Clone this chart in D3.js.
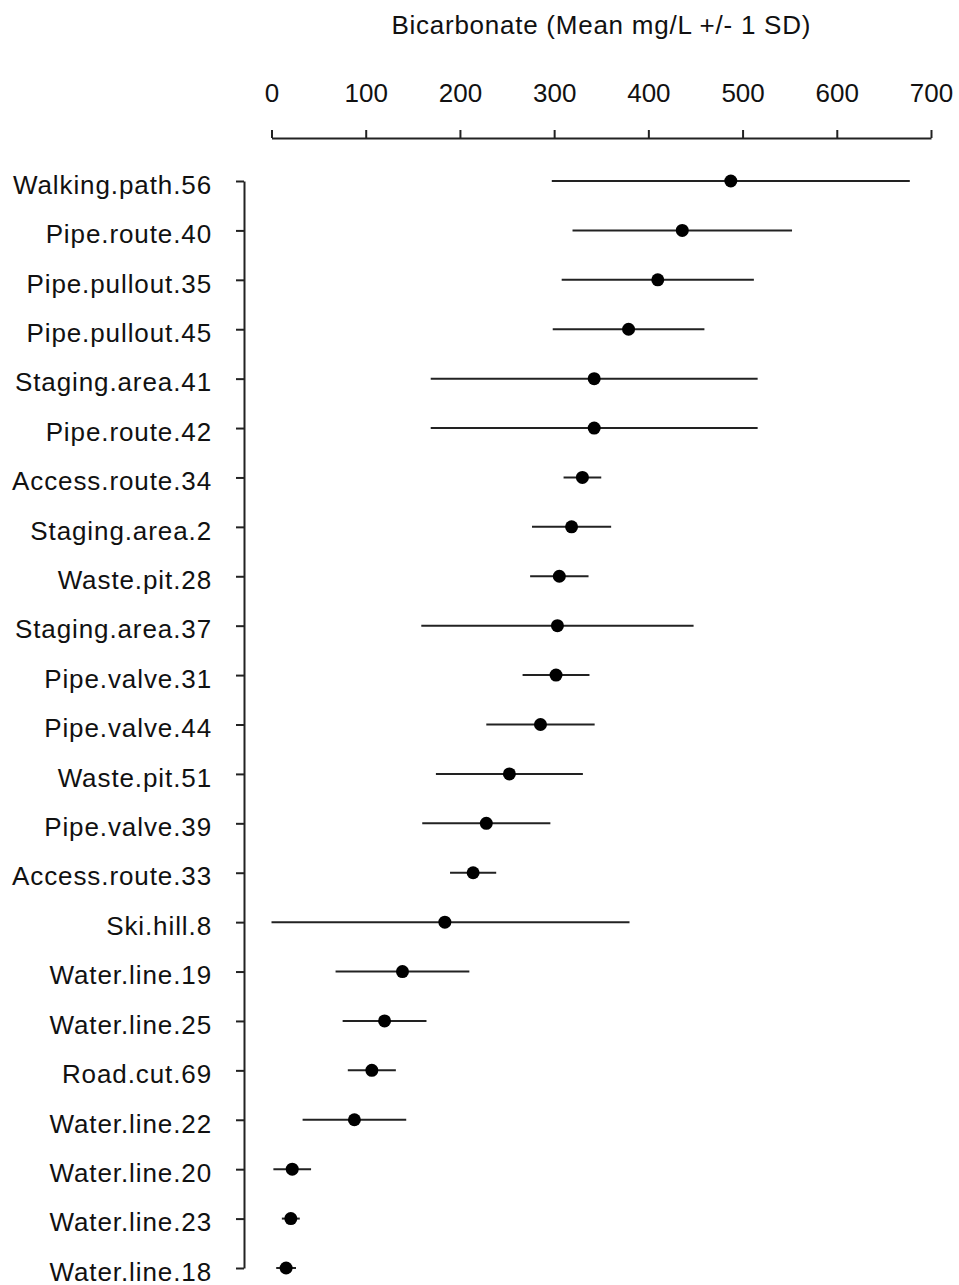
<!DOCTYPE html>
<html>
<head>
<meta charset="utf-8">
<script src="https://cdn.jsdelivr.net/npm/d3@7"></script>
<style>
  html, body { margin: 0; padding: 0; background: #fff; }
  text { font-family: "Liberation Sans", Arial, sans-serif; }
</style>
</head>
<body>
<svg id="chart" width="959" height="1285"></svg>
<script>
const sites = ["Walking.path.56","Pipe.route.40","Pipe.pullout.35","Pipe.pullout.45","Staging.area.41","Pipe.route.42","Access.route.34","Staging.area.2","Waste.pit.28","Staging.area.37","Pipe.valve.31","Pipe.valve.44","Waste.pit.51","Pipe.valve.39","Access.route.33","Ski.hill.8","Water.line.19","Water.line.25","Road.cut.69","Water.line.22","Water.line.20","Water.line.23","Water.line.18"];
const means = [487.5,436,410,379,342.5,342.5,330,318.5,305.5,303.5,302,285.5,252.5,228,214,184,139,120,106.5,88,22,20.5,15.5];
const sds = [190,116.5,102,80.5,173.5,173.5,20,42,31,144.5,35.5,57.5,78,68,24.5,196,71,44.5,25.5,55,20,9.5,10.5];
const xTicks = [0,100,200,300,400,500,600,700];
const title = "Bicarbonate (Mean mg/L +/- 1 SD)";

const svg = d3.select("#chart");
const x = d3.scaleLinear().domain([0,700]).range([271.5,931]).clamp(true);
const y = d3.scalePoint().domain(sites).range([181,1268]).padding(0);

const data = sites.map((s,i)=>({site:s, mean:means[i], sd:sds[i]}));

// x axis (top)
const gx = svg.append("g").attr("transform","translate(0,138)")
  .call(d3.axisTop(x).tickValues(xTicks).tickSize(8).tickSizeOuter(0).tickPadding(28).tickFormat(d3.format("d")));
gx.select(".domain").attr("stroke","#222").attr("stroke-width",2);
gx.selectAll(".tick line").attr("stroke","#222").attr("stroke-width",2);
gx.selectAll(".tick text").attr("font-size",26).attr("fill","#111").attr("font-family","Liberation Sans, Arial, sans-serif");

// y axis (left)
const gy = svg.append("g").attr("transform","translate(244,0)")
  .call(d3.axisLeft(y).tickSize(8).tickSizeOuter(0).tickPadding(24));
gy.select(".domain").attr("stroke","#222").attr("stroke-width",2);
gy.selectAll(".tick line").attr("stroke","#222").attr("stroke-width",2);
gy.selectAll(".tick text").attr("font-size",26).attr("fill","#111").attr("dy","0.47em")
  .attr("letter-spacing","0.9px").attr("font-family","Liberation Sans, Arial, sans-serif");

// title
svg.append("text").attr("x",(x(0)+x(700))/2).attr("y",34).attr("text-anchor","middle")
  .attr("font-size",26).attr("letter-spacing","0.75px").attr("fill","#111").text(title);

// error bars
svg.append("g").selectAll("line").data(data).join("line")
  .attr("x1",d=>x(d.mean-d.sd)).attr("x2",d=>x(d.mean+d.sd))
  .attr("y1",d=>y(d.site)).attr("y2",d=>y(d.site))
  .attr("stroke","#222").attr("stroke-width",2);

// points
svg.append("g").selectAll("circle").data(data).join("circle")
  .attr("cx",d=>x(d.mean)).attr("cy",d=>y(d.site)).attr("r",6.5).attr("fill","#000");
</script>
</body>
</html>
